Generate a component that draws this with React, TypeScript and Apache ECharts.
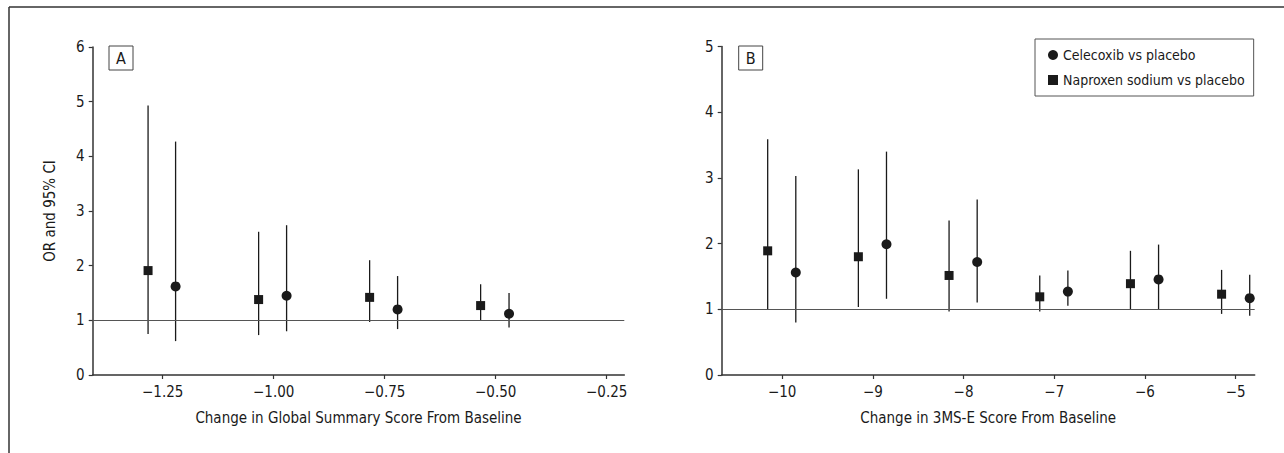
import React, { useEffect, useRef } from "react";
import * as echarts from "echarts";

// Panel A: change in Global Summary Score from baseline
const naproxenA_x = [-1.283, -1.034, -0.784, -0.534];
const naproxenA_or = [1.91, 1.38, 1.42, 1.27];
const naproxenA_lo = [0.75, 0.73, 0.97, 1.0];
const naproxenA_hi = [4.93, 2.62, 2.1, 1.66];
const celecoxibA_x = [-1.221, -0.971, -0.721, -0.47];
const celecoxibA_or = [1.62, 1.45, 1.2, 1.12];
const celecoxibA_lo = [0.62, 0.8, 0.84, 0.87];
const celecoxibA_hi = [4.27, 2.74, 1.81, 1.5];

// Panel B: change in 3MS-E score from baseline
const naproxenB_x = [-10.16, -9.16, -8.16, -7.16, -6.16, -5.155];
const naproxenB_or = [1.89, 1.8, 1.515, 1.19, 1.39, 1.23];
const naproxenB_lo = [1.0, 1.035, 0.965, 0.965, 1.0, 0.93];
const naproxenB_hi = [3.59, 3.13, 2.35, 1.515, 1.89, 1.6];
const celecoxibB_x = [-9.85, -8.85, -7.85, -6.85, -5.85, -4.845];
const celecoxibB_or = [1.56, 1.99, 1.72, 1.27, 1.455, 1.17];
const celecoxibB_lo = [0.8, 1.16, 1.105, 1.055, 1.0, 0.9];
const celecoxibB_hi = [3.03, 3.4, 2.67, 1.59, 1.985, 1.525];

const ticksA = [-1.25, -1.0, -0.75, -0.5, -0.25];
const ticksB = [-10, -9, -8, -7, -6, -5];

const seriesNames = ["Celecoxib vs placebo", "Naproxen sodium vs placebo"];
const panelLabels = ["A", "B"];
const xTitles = [
  "Change in Global Summary Score From Baseline",
  "Change in 3MS-E Score From Baseline",
];
const yTitle = "OR and 95% CI";

const FONT = '"Liberation Sans Narrow", "DejaVu Sans Condensed", "Liberation Sans", sans-serif';
const INK = "#1a1a1a";
const AXIS = "#333";

const fmtMinus = (s: string) => s.replace("-", "\u2212");

function errorBars(xs: number[], lo: number[], hi: number[], axisIdx: number) {
  return {
    type: "custom",
    xAxisIndex: axisIdx,
    yAxisIndex: axisIdx,
    silent: true,
    z: 2,
    data: xs.map((x, i) => [x, lo[i], hi[i]]),
    encode: { x: 0, y: [1, 2] },
    renderItem: (_p: any, api: any) => {
      const a = api.coord([api.value(0), api.value(1)]);
      const b = api.coord([api.value(0), api.value(2)]);
      return {
        type: "line",
        shape: { x1: a[0], y1: a[1], x2: b[0], y2: b[1] },
        style: { stroke: INK, lineWidth: 1.3 },
      };
    },
  };
}

function points(name: string, xs: number[], ys: number[], axisIdx: number, symbol: string, size: number, withRef: boolean) {
  const s: any = {
    type: "scatter",
    name,
    xAxisIndex: axisIdx,
    yAxisIndex: axisIdx,
    symbol,
    symbolSize: size,
    z: 3,
    itemStyle: { color: INK, opacity: 1 },
    data: xs.map((x, i) => [x, ys[i]]),
  };
  if (withRef) {
    s.markLine = {
      silent: true,
      symbol: ["none", "none"],
      label: { show: false },
      lineStyle: { color: "#555", width: 1, type: "solid" },
      data: [{ yAxis: 1 }],
    };
  }
  return s;
}

function xAxis(idx: number, min: number, max: number, ticks: number[], dec: number) {
  return {
    type: "value",
    gridIndex: idx,
    min,
    max,
    name: xTitles[idx],
    nameLocation: "middle",
    nameGap: 35,
    nameTextStyle: { fontFamily: FONT, fontSize: 15, color: INK },
    axisLine: { show: true, onZero: false, lineStyle: { color: AXIS, width: 1.5 } },
    axisTick: { show: true, inside: false, length: 4, customValues: ticks, lineStyle: { color: AXIS, width: 1.2 } },
    axisLabel: {
      show: true,
      customValues: ticks,
      margin: 9,
      fontFamily: FONT,
      fontSize: 15,
      color: INK,
      formatter: (v: number) => fmtMinus(v.toFixed(dec)),
    },
    splitLine: { show: false },
  };
}

function yAxis(idx: number, max: number, named: boolean) {
  return {
    type: "value",
    gridIndex: idx,
    min: 0,
    max,
    interval: 1,
    name: named ? yTitle : "",
    nameLocation: "middle",
    nameGap: 35,
    nameTextStyle: { fontFamily: FONT, fontSize: 15, color: INK },
    axisLine: { show: true, onZero: false, lineStyle: { color: AXIS, width: 1.5 } },
    axisTick: { show: true, inside: false, length: 4, lineStyle: { color: AXIS, width: 1.2 } },
    axisLabel: { show: true, margin: 8, fontFamily: FONT, fontSize: 15, color: INK },
    splitLine: { show: false },
  };
}

function labelBox(label: string, x: number, y: number) {
  return {
    type: "group",
    x,
    y,
    children: [
      { type: "rect", shape: { x: 0, y: 0, width: 24, height: 24 }, style: { fill: "#fff", stroke: "#444", lineWidth: 1 } },
      {
        type: "text",
        x: 12,
        y: 12.5,
        style: { text: label, fill: INK, font: `16px ${FONT}`, align: "center", verticalAlign: "middle" },
      },
    ],
  };
}

export default function App() {
  const ref = useRef<HTMLDivElement>(null);
  useEffect(() => {
    if (!ref.current) return;
    const chart = echarts.init(ref.current, null, { renderer: "svg" });
    chart.setOption({
      animation: false,
      backgroundColor: "#fff",
      grid: [
        { left: 92.7, right: 659.7, top: 47, bottom: 78 },
        { left: 721.7, right: 29.3, top: 46.5, bottom: 78 },
      ],
      xAxis: [xAxis(0, -1.4077, -0.2104, ticksA, 2), xAxis(1, -10.667, -4.79, ticksB, 0)],
      yAxis: [yAxis(0, 6, true), yAxis(1, 5, false)],
      legend: {
        show: true,
        orient: "vertical",
        left: 1035,
        top: 39,
        padding: [9, 9, 9, 13],
        itemGap: 11,
        itemWidth: 10,
        itemHeight: 10,
        borderColor: "#555",
        borderWidth: 1,
        backgroundColor: "#fff",
        textStyle: { fontFamily: FONT, fontSize: 14, color: INK },
        data: [
          { name: seriesNames[0], icon: "circle" },
          { name: seriesNames[1], icon: "rect" },
        ],
      },
      graphic: [
        { type: "line", shape: { x1: 9, y1: 7, x2: 1284, y2: 7 }, style: { stroke: AXIS, lineWidth: 1.5 } },
        { type: "line", shape: { x1: 9, y1: 7, x2: 9, y2: 453 }, style: { stroke: AXIS, lineWidth: 1.5 } },
        labelBox(panelLabels[0], 109, 46),
        labelBox(panelLabels[1], 738.7, 46),
      ],
      series: [
        errorBars(naproxenA_x, naproxenA_lo, naproxenA_hi, 0),
        errorBars(celecoxibA_x, celecoxibA_lo, celecoxibA_hi, 0),
        errorBars(naproxenB_x, naproxenB_lo, naproxenB_hi, 1),
        errorBars(celecoxibB_x, celecoxibB_lo, celecoxibB_hi, 1),
        points(seriesNames[1], naproxenA_x, naproxenA_or, 0, "rect", 9, true),
        points(seriesNames[0], celecoxibA_x, celecoxibA_or, 0, "circle", 10, false),
        points(seriesNames[1], naproxenB_x, naproxenB_or, 1, "rect", 9, true),
        points(seriesNames[0], celecoxibB_x, celecoxibB_or, 1, "circle", 10, false),
      ],
    });
    return () => chart.dispose();
  }, []);
  return <div ref={ref} style={{ position: "fixed", left: 0, top: 0, width: 1284, height: 453 }} />;
}
